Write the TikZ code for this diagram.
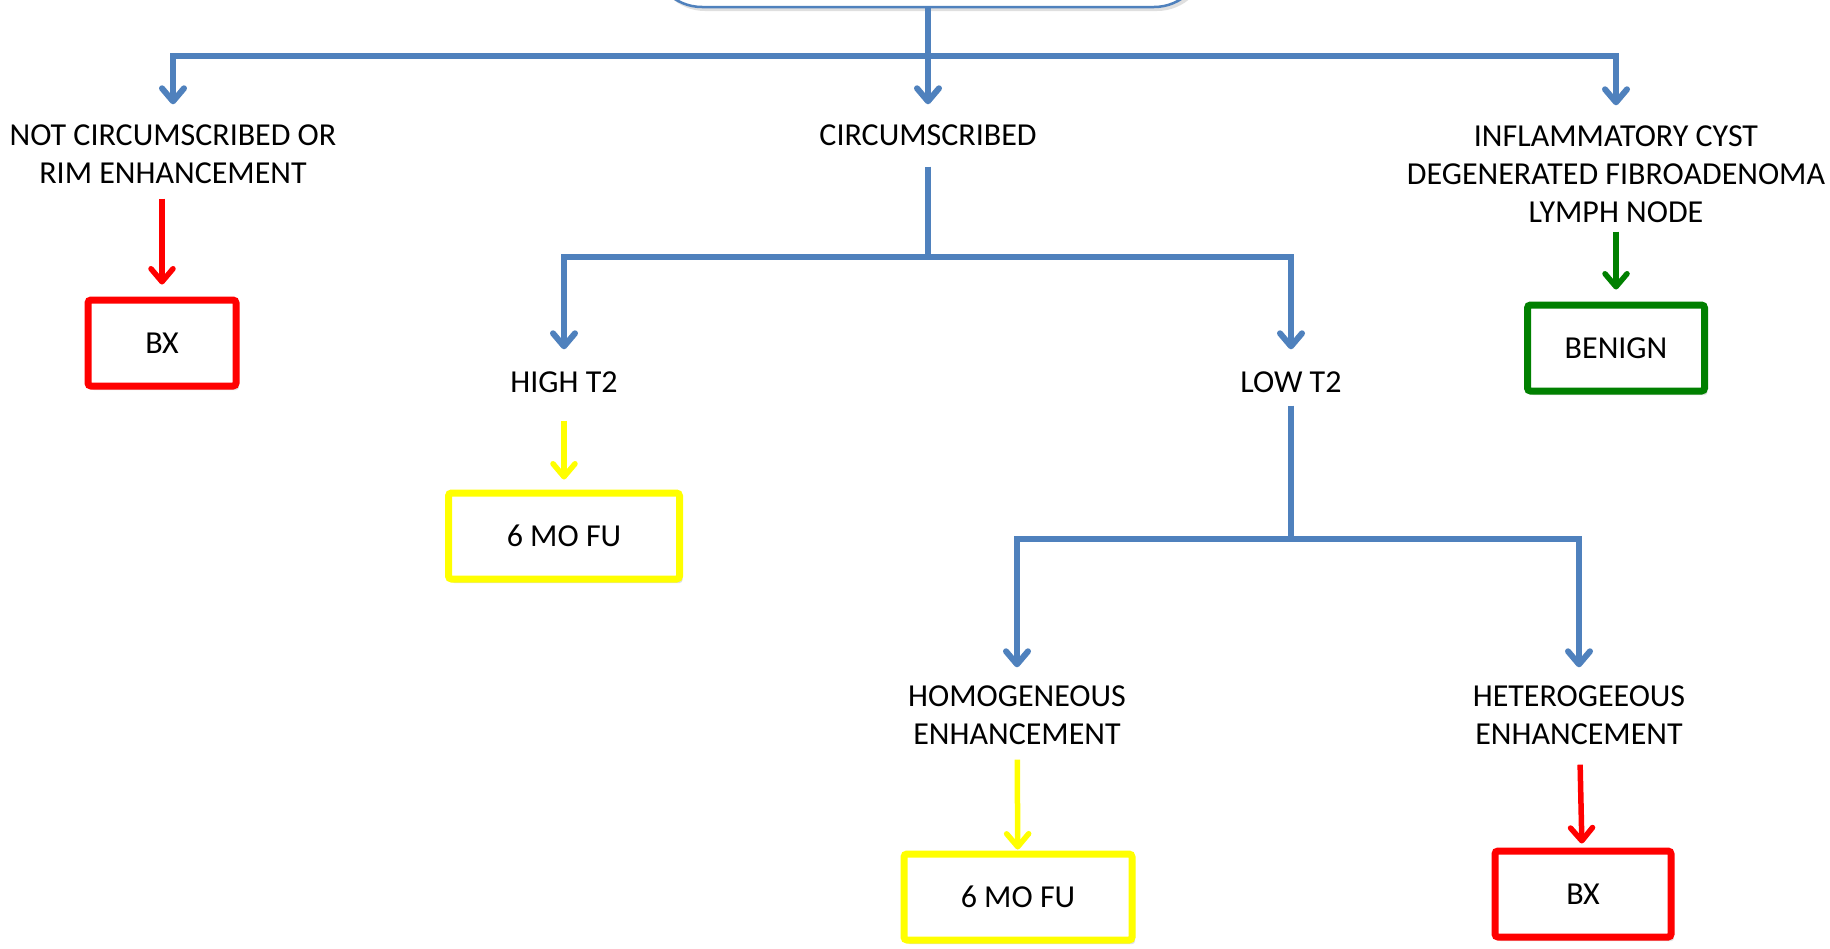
\documentclass[tikz,border=0pt]{standalone}
\usepackage{fontspec}
\setmainfont{Carlito}
\usetikzlibrary{arrows.meta,positioning,shadows}
\definecolor{azul}{RGB}{79,129,189}
\definecolor{vermelho}{RGB}{255,0,0}
\definecolor{amarelo}{RGB}{255,255,0}
\definecolor{verde}{RGB}{0,128,0}
\begin{document}
\begin{tikzpicture}[x=1pt,y=-1pt,>={Straight Barb[length=13pt,width=22pt,round]}]
  \tikzstyle{sombra}=[drop shadow={shadow xshift=3pt,shadow yshift=-4pt,opacity=0.25}]
  \tikzstyle{rotulo}=[inner sep=0pt,align=center,font=\fontsize{32}{38}\selectfont]
  \tikzstyle{caixa}=[draw,fill=white,line width=7pt,rounded corners=3pt,minimum height=86pt,font=\fontsize{32}{38}\selectfont,sombra]
  \tikzstyle{topo}=[draw=azul,fill=white,line width=2.5pt,rounded corners=50pt,minimum width=552pt,minimum height=100pt,sombra]
  \tikzstyle{tronco}=[azul,line width=6pt]
  \tikzstyle{seta}=[line width=5.5pt,->]
  \fill[white] (0,0) rectangle (1830,948);
  \useasboundingbox (0,0) rectangle (1830,948);
  \node[topo] (topo) at (928,-43) {};
  \node[rotulo] (notcirc) at (173,154) {NOT CIRCUMSCRIBED OR\\RIM ENHANCEMENT};
  \node[rotulo] (circ) at (928,135) {CIRCUMSCRIBED};
  \node[rotulo] (cyst) at (1616,174) {INFLAMMATORY CYST\\DEGENERATED FIBROADENOMA\\LYMPH NODE};
  \node[caixa,draw=vermelho,minimum width=148pt] (bxa) at (162,343) {BX};
  \node[caixa,draw=verde,minimum width=177pt] (benign) at (1616,348) {BENIGN};
  \node[rotulo] (high) at (564,382) {HIGH T2};
  \node[rotulo] (low) at (1291,382) {LOW T2};
  \node[caixa,draw=amarelo,minimum width=231pt] (fua) at (564,536) {6 MO FU};
  \node[rotulo] (homog) at (1017,715) {HOMOGENEOUS\\ENHANCEMENT};
  \node[rotulo] (heter) at (1579,715) {HETEROGEEOUS\\ENHANCEMENT};
  \node[caixa,draw=amarelo,minimum width=228pt] (fub) at (1018,897) {6 MO FU};
  \node[caixa,draw=vermelho,minimum width=176pt] (bxb) at (1583,894) {BX};
  % blue tree
  \coordinate (j1) at (928,56);
  \coordinate (j2) at (928,257);
  \coordinate (j3) at (1291,539);
  \draw[tronco] (topo) -- (j1);
  \draw[tronco,->,shorten >=20pt] (j1) -| (notcirc);
  \draw[tronco,->,shorten >=20pt] (j1) -- (circ);
  \draw[tronco,->,shorten >=20pt] (j1) -| (cyst);
  \draw[tronco,shorten <=21pt] (circ) -- (j2);
  \draw[tronco,->,shorten >=22pt] (j2) -| (high);
  \draw[tronco,->,shorten >=22pt] (j2) -| (low);
  \draw[tronco,shorten <=13pt] (low) -- (j3);
  \draw[tronco,->,shorten >=18pt] (j3) -| (homog);
  \draw[tronco,->,shorten >=18pt] (j3) -| (heter);
  % coloured arrows
  \draw[seta,vermelho,shorten <=15pt,shorten >=12pt] (notcirc.south -| bxa) -- (bxa);
  \draw[seta,verde,shorten <=9pt,shorten >=12pt] (cyst) -- (benign);
  \draw[seta,amarelo,shorten <=28pt,shorten >=10pt] (high) -- (fua);
  \draw[seta,amarelo,shorten <=15pt,shorten >=1pt] (homog) -- (fub);
  \draw[seta,vermelho,shorten <=20pt,shorten >=4pt] (heter) -- (bxb);
\end{tikzpicture}
\end{document}
